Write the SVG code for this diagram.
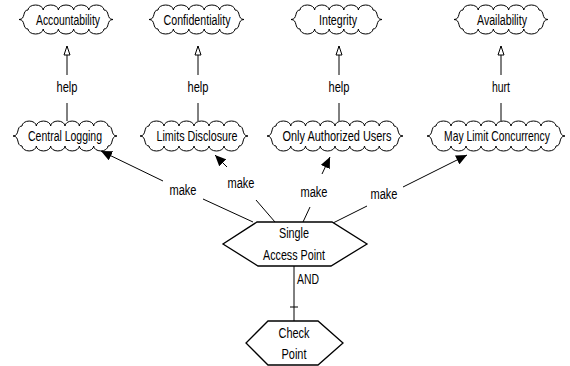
<svg xmlns="http://www.w3.org/2000/svg" width="570" height="366" viewBox="0 0 570 366">
<style>
.c{fill:#fff;stroke:#000;stroke-width:1}
.h{fill:#fff;stroke:#000;stroke-width:1.3}
.l{stroke:#000;stroke-width:1;fill:none}
text{font-family:"Liberation Sans Narrow","Liberation Sans",Arial,sans-serif;font-size:14px;fill:#000;text-anchor:middle}
</style>
<defs>
<marker id="hol" markerWidth="8" markerHeight="11" refX="4" refY="1" orient="0" markerUnits="userSpaceOnUse">
<path d="M4,1 L7,10 L1,10 Z" fill="#fff" stroke="#000" stroke-width="1"/>
</marker>
<marker id="fil" markerWidth="12" markerHeight="10" refX="11" refY="5" orient="auto" markerUnits="userSpaceOnUse">
<path d="M0,0 L11,5 L0,10 Z" fill="#000"/>
</marker>
</defs>
<rect width="570" height="366" fill="#fff"/>
<g id="connectors">
<line class="l" x1="67" y1="75" x2="67" y2="46" marker-end="url(#hol)"/>
<line class="l" x1="67" y1="103" x2="67" y2="121"/>
<text x="67" y="92" textLength="21" lengthAdjust="spacingAndGlyphs">help</text>
<line class="l" x1="198" y1="75" x2="198" y2="46" marker-end="url(#hol)"/>
<line class="l" x1="198" y1="103" x2="198" y2="121"/>
<text x="198" y="92" textLength="21" lengthAdjust="spacingAndGlyphs">help</text>
<line class="l" x1="339" y1="75" x2="339" y2="46" marker-end="url(#hol)"/>
<line class="l" x1="339" y1="103" x2="339" y2="121"/>
<text x="339" y="92" textLength="21" lengthAdjust="spacingAndGlyphs">help</text>
<line class="l" x1="501" y1="75" x2="501" y2="46" marker-end="url(#hol)"/>
<line class="l" x1="501" y1="103" x2="501" y2="121"/>
<text x="501" y="92" textLength="18" lengthAdjust="spacingAndGlyphs">hurt</text>

<line class="l" x1="253" y1="222" x2="203" y2="199"/>
<line class="l" x1="163" y1="181" x2="101" y2="151" marker-end="url(#fil)"/>
<text x="183" y="195" textLength="27" lengthAdjust="spacingAndGlyphs">make</text>
<line class="l" x1="275" y1="222" x2="256" y2="200"/>
<line class="l" x1="227" y1="167" x2="215" y2="155" marker-end="url(#fil)"/>
<text x="241" y="188" textLength="27" lengthAdjust="spacingAndGlyphs">make</text>
<line class="l" x1="303" y1="222" x2="310" y2="207"/>
<line class="l" x1="322" y1="174" x2="330" y2="157" marker-end="url(#fil)"/>
<text x="314" y="197" textLength="27" lengthAdjust="spacingAndGlyphs">make</text>
<line class="l" x1="333" y1="223" x2="367" y2="206"/>
<line class="l" x1="403" y1="187" x2="467" y2="155" marker-end="url(#fil)"/>
<text x="384" y="199" textLength="27" lengthAdjust="spacingAndGlyphs">make</text>

<line class="l" x1="294" y1="266" x2="294" y2="321"/>
<line class="l" x1="290" y1="307" x2="298" y2="307"/>
<text x="308" y="284" textLength="22" lengthAdjust="spacingAndGlyphs">AND</text>
</g>

<g id="accountability">
<path class="c" d="M28,10 a7.6,5 0 0 1 15.2,0 a7.6,5 0 0 1 15.2,0 a7.6,5 0 0 1 15.2,0 a7.6,5 0 0 1 15.2,0 a7.6,5 0 0 1 15.2,0 C110,10 106,19.5 113,19.5 C106,19.5 110,29 104,29 a7.6,5 0 0 1 -15.2,0 a7.6,5 0 0 1 -15.2,0 a7.6,5 0 0 1 -15.2,0 a7.6,5 0 0 1 -15.2,0 a7.6,5 0 0 1 -15.2,0 C22,29 26,19.5 19,19.5 C26,19.5 22,10 28,10 Z"/>
<text x="68" y="25" textLength="64" lengthAdjust="spacingAndGlyphs">Accountability</text>
</g>
<g id="confidentiality">
<path class="c" d="M158,10 a7.7,5 0 0 1 15.4,0 a7.7,5 0 0 1 15.4,0 a7.7,5 0 0 1 15.4,0 a7.7,5 0 0 1 15.4,0 a7.7,5 0 0 1 15.4,0 C241,10 237,19.5 244,19.5 C237,19.5 241,29 235,29 a7.7,5 0 0 1 -15.4,0 a7.7,5 0 0 1 -15.4,0 a7.7,5 0 0 1 -15.4,0 a7.7,5 0 0 1 -15.4,0 a7.7,5 0 0 1 -15.4,0 C152,29 156,19.5 149,19.5 C156,19.5 152,10 158,10 Z"/>
<text x="197" y="25" textLength="67" lengthAdjust="spacingAndGlyphs">Confidentiality</text>
</g>
<g id="integrity">
<path class="c" d="M300,10 a7.3,5 0 0 1 14.6,0 a7.3,5 0 0 1 14.6,0 a7.3,5 0 0 1 14.6,0 a7.3,5 0 0 1 14.6,0 a7.3,5 0 0 1 14.6,0 C379,10 375,19.5 382,19.5 C375,19.5 379,29 373,29 a7.3,5 0 0 1 -14.6,0 a7.3,5 0 0 1 -14.6,0 a7.3,5 0 0 1 -14.6,0 a7.3,5 0 0 1 -14.6,0 a7.3,5 0 0 1 -14.6,0 C294,29 298,19.5 291,19.5 C298,19.5 294,10 300,10 Z"/>
<text x="338" y="25" textLength="38" lengthAdjust="spacingAndGlyphs">Integrity</text>
</g>
<g id="availability">
<path class="c" d="M463,10 a7.6,5 0 0 1 15.2,0 a7.6,5 0 0 1 15.2,0 a7.6,5 0 0 1 15.2,0 a7.6,5 0 0 1 15.2,0 a7.6,5 0 0 1 15.2,0 C545,10 541,19.5 548,19.5 C541,19.5 545,29 539,29 a7.6,5 0 0 1 -15.2,0 a7.6,5 0 0 1 -15.2,0 a7.6,5 0 0 1 -15.2,0 a7.6,5 0 0 1 -15.2,0 a7.6,5 0 0 1 -15.2,0 C457,29 461,19.5 454,19.5 C461,19.5 457,10 463,10 Z"/>
<text x="502" y="25" textLength="50" lengthAdjust="spacingAndGlyphs">Availability</text>
</g>

<g id="central-logging">
<path class="c" d="M22,126 a7.167,5 0 0 1 14.333,0 a7.167,5 0 0 1 14.333,0 a7.167,5 0 0 1 14.333,0 a7.167,5 0 0 1 14.333,0 a7.167,5 0 0 1 14.333,0 a7.167,5 0 0 1 14.333,0 C114,126 110,136 117,136 C110,136 114,146 108,146 a7.167,5 0 0 1 -14.333,0 a7.167,5 0 0 1 -14.333,0 a7.167,5 0 0 1 -14.333,0 a7.167,5 0 0 1 -14.333,0 a7.167,5 0 0 1 -14.333,0 a7.167,5 0 0 1 -14.333,0 C16,146 20,136 13,136 C20,136 16,126 22,126 Z"/>
<text x="65" y="141" textLength="74" lengthAdjust="spacingAndGlyphs">Central Logging</text>
</g>
<g id="limits-disclosure">
<path class="c" d="M149,126 a7.5,5 0 0 1 15,0 a7.5,5 0 0 1 15,0 a7.5,5 0 0 1 15,0 a7.5,5 0 0 1 15,0 a7.5,5 0 0 1 15,0 a7.5,5 0 0 1 15,0 C245,126 241,136 248,136 C241,136 245,146 239,146 a7.5,5 0 0 1 -15,0 a7.5,5 0 0 1 -15,0 a7.5,5 0 0 1 -15,0 a7.5,5 0 0 1 -15,0 a7.5,5 0 0 1 -15,0 a7.5,5 0 0 1 -15,0 C143,146 147,136 140,136 C147,136 143,126 149,126 Z"/>
<text x="197" y="141" textLength="81" lengthAdjust="spacingAndGlyphs">Limits Disclosure</text>
</g>
<g id="only-authorized-users">
<path class="c" d="M276,126 a7.375,5 0 0 1 14.75,0 a7.375,5 0 0 1 14.75,0 a7.375,5 0 0 1 14.75,0 a7.375,5 0 0 1 14.75,0 a7.375,5 0 0 1 14.75,0 a7.375,5 0 0 1 14.75,0 a7.375,5 0 0 1 14.75,0 a7.375,5 0 0 1 14.75,0 C400,126 396,136 403,136 C396,136 400,146 394,146 a7.375,5 0 0 1 -14.75,0 a7.375,5 0 0 1 -14.75,0 a7.375,5 0 0 1 -14.75,0 a7.375,5 0 0 1 -14.75,0 a7.375,5 0 0 1 -14.75,0 a7.375,5 0 0 1 -14.75,0 a7.375,5 0 0 1 -14.75,0 a7.375,5 0 0 1 -14.75,0 C270,146 274,136 267,136 C274,136 270,126 276,126 Z"/>
<text x="337" y="141" textLength="109" lengthAdjust="spacingAndGlyphs">Only Authorized Users</text>
</g>
<g id="may-limit-concurrency">
<path class="c" d="M436,126 a7.5,5 0 0 1 15,0 a7.5,5 0 0 1 15,0 a7.5,5 0 0 1 15,0 a7.5,5 0 0 1 15,0 a7.5,5 0 0 1 15,0 a7.5,5 0 0 1 15,0 a7.5,5 0 0 1 15,0 a7.5,5 0 0 1 15,0 C562,126 558,136 565,136 C558,136 562,146 556,146 a7.5,5 0 0 1 -15,0 a7.5,5 0 0 1 -15,0 a7.5,5 0 0 1 -15,0 a7.5,5 0 0 1 -15,0 a7.5,5 0 0 1 -15,0 a7.5,5 0 0 1 -15,0 a7.5,5 0 0 1 -15,0 a7.5,5 0 0 1 -15,0 C430,146 434,136 427,136 C434,136 430,126 436,126 Z"/>
<text transform="translate(497,141) scale(0.74,1)" x="0" y="0">May Limit Concurrency</text>
</g>

<g id="single-access-point">
<path class="h" d="M257,222 L332,222 L367,244 L331,266 L258,266 L223,244 Z"/>
<text x="294" y="238" textLength="30" lengthAdjust="spacingAndGlyphs">Single</text>
<text x="294" y="260" textLength="62" lengthAdjust="spacingAndGlyphs">Access Point</text>
</g>
<g id="check-point">
<path class="h" d="M268,321 L318,321 L343,343 L318,365 L268,365 L246,343 Z"/>
<text x="294" y="338" textLength="31" lengthAdjust="spacingAndGlyphs">Check</text>
<text x="294" y="359" textLength="25" lengthAdjust="spacingAndGlyphs">Point</text>
</g>
</svg>
